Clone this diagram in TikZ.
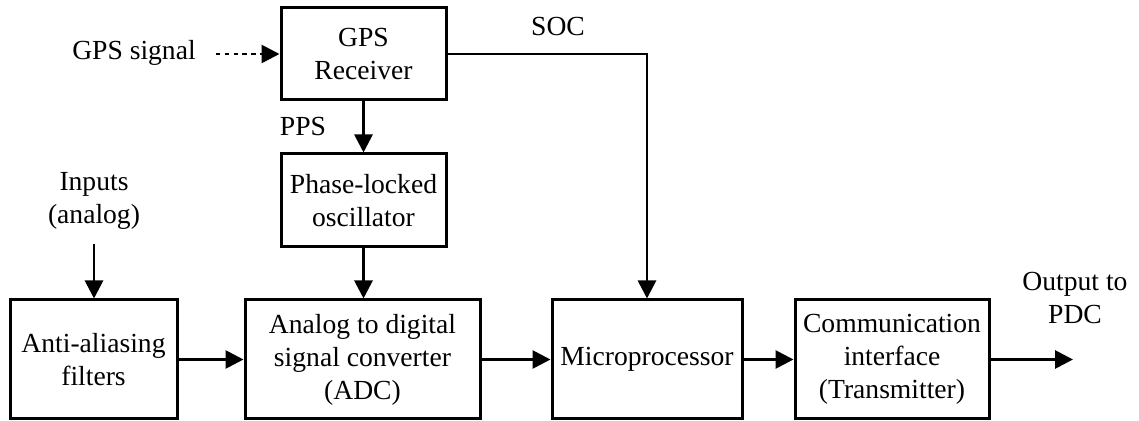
\documentclass[tikz,border=0pt]{standalone}
\usepackage{fontspec}
\setmainfont{Liberation Serif}
\usetikzlibrary{arrows.meta}
\newcommand\blockfont{\fontsize{13.8pt}{16.5pt}\selectfont}
\begin{document}
\begin{tikzpicture}[x=0.5pt,y=-0.5pt,
  blk/.style={draw, line width=1.5pt, inner sep=0pt, align=center, font=\blockfont},
  lbl/.style={inner sep=0pt, align=center, font=\blockfont},
  conn/.style={line width=1.4pt, -{Triangle[length=9pt,width=9pt]}},
  dashconn/.style={conn, dash pattern=on 2.2pt off 2.2pt},
]
\useasboundingbox (0,0) rectangle (1139,421);

% blocks
\node[blk, minimum width=82.5pt, minimum height=46pt] (gps) at (363.5,54) {GPS\\Receiver};
\node[blk, minimum width=82.5pt, minimum height=46.5pt] (pll) at (363.5,200.5) {Phase-locked\\oscillator};
\node[blk, minimum width=83.5pt, minimum height=59.5pt] (aa) at (93.5,359.5) {Anti-aliasing\\filters};
\node[blk, minimum width=117.5pt, minimum height=59.5pt] (adc) at (362.5,359.5) {Analog to digital\\signal converter\\(ADC)};
\node[blk, minimum width=95pt, minimum height=59.5pt] (mp) at (647,359.5) {Microprocessor};
\node[blk, minimum width=97pt, minimum height=59.5pt] (comm) at (892,359.5) {Communication\\interface\\(Transmitter)};

% free labels
\node[lbl] (gsiglbl) at (134,53) {GPS signal};
\node[lbl] (soclbl) at (558,27) {SOC};
\node[lbl] (ppslbl) at (303,127) {PPS};
\node[lbl] (inlbl) at (94,201) {Inputs\\(analog)};
\node[lbl] (outlbl) at (1075,298) {Output to\\PDC};

% free connector ends
\coordinate (gsig) at (216,54);
\coordinate (inp) at (94,244);
\coordinate (outp) at (1073,359.5);

% connectors
\draw[dashconn] (gsig) -- (gps.west);
\draw[conn] (gps.south) -- (pll.north);
\draw[conn] (pll.south) -- (pll.south |- adc.north);
\draw[conn] (gps.east) -| (mp.north);
\draw[conn] (inp) -- (inp |- aa.north);
\draw[conn] (aa.east) -- (adc.west);
\draw[conn] (adc.east) -- (mp.west);
\draw[conn] (mp.east) -- (comm.west);
\draw[conn] (comm.east) -- (outp);
\end{tikzpicture}
\end{document}
